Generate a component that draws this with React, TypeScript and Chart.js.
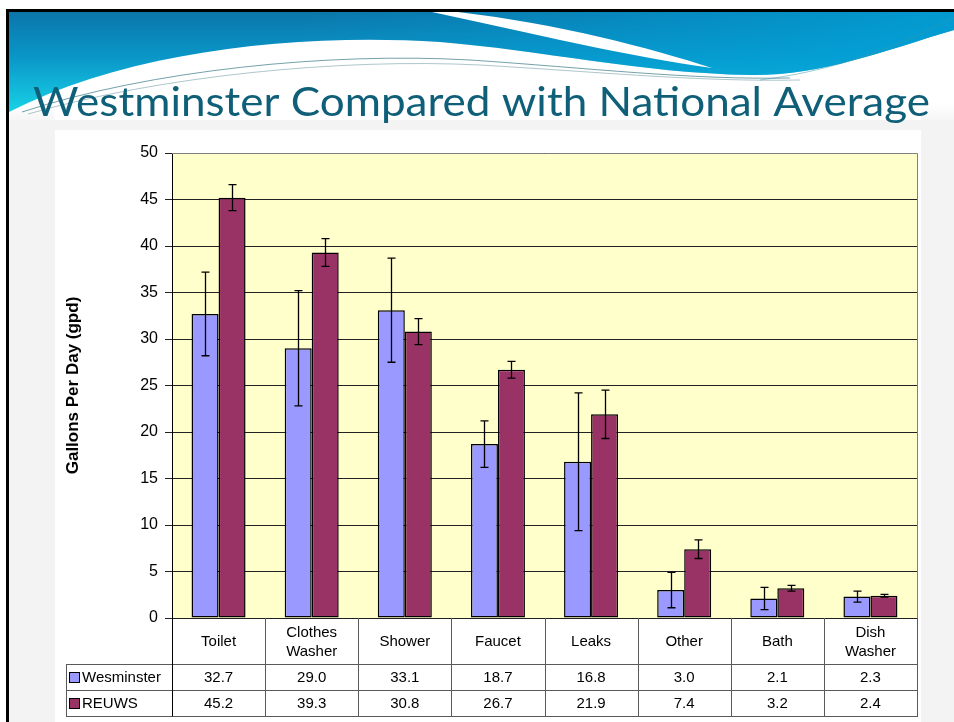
import React, { useEffect, useRef } from 'react';
import { Chart, registerables } from 'chart.js';

Chart.register(...registerables);

// ---- data ----
const categories: string[][] = [
  ['Toilet'],
  ['Clothes', 'Washer'],
  ['Shower'],
  ['Faucet'],
  ['Leaks'],
  ['Other'],
  ['Bath'],
  ['Dish', 'Washer'],
];
const seriesNames = ['Wesminster', 'REUWS'];
const westminster = [32.7, 29.0, 33.1, 18.7, 16.8, 3.0, 2.1, 2.3];
const reuws = [45.2, 39.3, 30.8, 26.7, 21.9, 7.4, 3.2, 2.4];
const westminsterErr = [4.5, 6.2, 5.6, 2.5, 7.4, 1.9, 1.2, 0.6];
const reuwsErr = [1.4, 1.5, 1.4, 0.9, 2.6, 1.0, 0.3, 0.15];
const yMin = 0;
const yMax = 50;
const yStep = 5;
const titleText = 'Westminster Compared with National Average';
const yTitle = 'Gallons Per Day (gpd)';

const seriesColors = ['#9999FF', '#993366'];
const FONT = '"Liberation Sans", Arial, sans-serif';

const slidePlugin = {
  id: 'slide',
  beforeDraw(chart: any) {
    const { ctx, chartArea } = chart;
    const W = chart.width;
    const H = chart.height;
    ctx.save();
    // page
    ctx.fillStyle = '#ffffff';
    ctx.fillRect(0, 0, W, H);
    // slide textured background
    ctx.fillStyle = '#f3f3f3';
    ctx.fillRect(9, 120, W - 9, H - 120);
    // chart object area
    ctx.fillStyle = '#ffffff';
    ctx.fillRect(55, 130, 866, H - 130);
    // header white zone
    ctx.fillStyle = '#ffffff';
    ctx.fillRect(9, 12, W - 9, 108);
    const fade = ctx.createLinearGradient(0, 104, 0, 124);
    fade.addColorStop(0, 'rgba(243,243,243,0)');
    fade.addColorStop(1, 'rgba(243,243,243,1)');
    ctx.fillStyle = fade;
    ctx.fillRect(9, 104, 46, 16);
    ctx.fillRect(921, 104, W - 921, 16);

    // main blue swoosh
    ctx.beginPath();
    ctx.moveTo(9, 12);
    ctx.lineTo(W, 12);
    ctx.lineTo(W, 30);
    ctx.bezierCurveTo(880, 52, 820, 76, 750, 75);
    ctx.bezierCurveTo(640, 73, 540, 50, 440, 42);
    ctx.bezierCurveTo(300, 33, 130, 50, 9, 112);
    ctx.closePath();
    const g = ctx.createLinearGradient(0, 12, 0, 112);
    g.addColorStop(0, '#0b76aa');
    g.addColorStop(0.45, '#0a96c8');
    g.addColorStop(1, '#18d2e6');
    ctx.fillStyle = g;
    ctx.fill();
    const g2 = ctx.createLinearGradient(300, 0, W, 0);
    g2.addColorStop(0, 'rgba(0,160,215,0)');
    g2.addColorStop(1, 'rgba(0,165,220,0.75)');
    ctx.fillStyle = g2;
    ctx.fill();

    // white streak
    ctx.beginPath();
    ctx.moveTo(432, 12);
    ctx.lineTo(458, 12);
    ctx.bezierCurveTo(560, 24, 650, 48, 712, 68);
    ctx.bezierCurveTo(630, 57, 530, 33, 432, 12);
    ctx.closePath();
    ctx.fillStyle = '#ffffff';
    ctx.fill();

    // thin decorative lines
    ctx.lineWidth = 1;
    ctx.strokeStyle = 'rgba(70,130,140,0.75)';
    ctx.beginPath();
    ctx.moveTo(22, 112);
    ctx.bezierCurveTo(150, 70, 330, 52, 470, 60);
    ctx.bezierCurveTo(590, 68, 690, 80, 790, 78);
    ctx.stroke();
    ctx.strokeStyle = 'rgba(120,160,170,0.6)';
    ctx.beginPath();
    ctx.moveTo(28, 114);
    ctx.bezierCurveTo(160, 76, 340, 58, 480, 65);
    ctx.bezierCurveTo(600, 72, 700, 82, 800, 80);
    ctx.stroke();
    ctx.strokeStyle = 'rgba(60,150,170,0.5)';
    ctx.beginPath();
    ctx.moveTo(760, 80);
    ctx.bezierCurveTo(840, 70, 900, 45, W, 18);
    ctx.stroke();

    // slide border
    ctx.fillStyle = '#000000';
    ctx.fillRect(6, 9, W - 6, 3);
    ctx.fillRect(6, 9, 3, H - 9);

    // title
    ctx.font = '40px Lato, "Open Sans", sans-serif';
    ctx.fillStyle = '#0f5f78';
    ctx.textBaseline = 'alphabetic';
    ctx.textAlign = 'left';
    const tw = ctx.measureText(titleText).width;
    ctx.save();
    ctx.translate(33, 116);
    ctx.scale(897 / tw, 1);
    ctx.fillText(titleText, 0, 0);
    ctx.restore();

    // plot background
    ctx.fillStyle = '#FFFFCC';
    ctx.fillRect(chartArea.left, chartArea.top, chartArea.right - chartArea.left, chartArea.bottom - chartArea.top);
    ctx.restore();
  },
};

const errorBarPlugin = {
  id: 'errorBars',
  afterDatasetsDraw(chart: any) {
    const { ctx } = chart;
    const yScale = chart.scales.y;
    const errs = [westminsterErr, reuwsErr];
    ctx.save();
    ctx.strokeStyle = '#000';
    ctx.lineWidth = 1.3;
    chart.data.datasets.forEach((ds: any, di: number) => {
      const meta = chart.getDatasetMeta(di);
      meta.data.forEach((bar: any, i: number) => {
        const v = ds.data[i];
        const e = errs[di][i];
        const x = Math.round(bar.x) + 0.5;
        const yt = yScale.getPixelForValue(v + e);
        const yb = yScale.getPixelForValue(v - e);
        ctx.beginPath();
        ctx.moveTo(x, yt);
        ctx.lineTo(x, yb);
        ctx.moveTo(x - 4, yt);
        ctx.lineTo(x + 4, yt);
        ctx.moveTo(x - 4, yb);
        ctx.lineTo(x + 4, yb);
        ctx.stroke();
      });
    });
    ctx.restore();
  },
};

const tablePlugin = {
  id: 'dataTable',
  afterDraw(chart: any) {
    const { ctx, chartArea } = chart;
    const xScale = chart.scales.x;
    const n = categories.length;
    const cw = xScale.getPixelForValue(1) - xScale.getPixelForValue(0);
    const left = chartArea.left;
    const right = chartArea.right;
    const top = chartArea.bottom;
    const hdrH = 46;
    const rowH = 26;
    const legendLeft = 66;
    const y1 = top + hdrH;
    const y2 = y1 + rowH;
    const y3 = y2 + rowH;
    const series = [westminster, reuws];
    ctx.save();
    // plot border
    ctx.strokeStyle = '#808080';
    ctx.lineWidth = 1;
    ctx.beginPath();
    ctx.moveTo(left, chartArea.top + 0.5);
    ctx.lineTo(right + 0.5, chartArea.top + 0.5);
    ctx.lineTo(right + 0.5, top);
    ctx.stroke();

    // table lines
    ctx.strokeStyle = '#5a5a5a';
    ctx.beginPath();
    [y1, y2, y3].forEach((yy) => {
      ctx.moveTo(legendLeft, Math.round(yy) + 0.5);
      ctx.lineTo(right + 1, Math.round(yy) + 0.5);
    });
    for (let i = 1; i <= n; i++) {
      const bx = Math.round(xScale.getPixelForValue(i - 1) + cw / 2) + 0.5;
      ctx.moveTo(bx, top);
      ctx.lineTo(bx, y3 + 0.5);
    }
    ctx.moveTo(legendLeft + 0.5, y1);
    ctx.lineTo(legendLeft + 0.5, y3 + 0.5);
    ctx.stroke();
    ctx.strokeStyle = '#000';
    ctx.beginPath();
    ctx.moveTo(Math.round(left) + 0.5, top);
    ctx.lineTo(Math.round(left) + 0.5, y3 + 0.5);
    ctx.stroke();

    // header labels
    ctx.fillStyle = '#000';
    ctx.font = `15px ${FONT}`;
    ctx.textAlign = 'center';
    ctx.textBaseline = 'middle';
    categories.forEach((lines, i) => {
      const cx = xScale.getPixelForValue(i);
      const cy = top + hdrH / 2 + 1;
      const lh = 19;
      lines.forEach((ln, k) => {
        ctx.fillText(ln, cx, cy + (k - (lines.length - 1) / 2) * lh);
      });
    });
    // values
    series.forEach((vals, si) => {
      const cy = y1 + rowH * si + rowH / 2 + 1;
      vals.forEach((v, i) => {
        ctx.fillText(v.toFixed(1), xScale.getPixelForValue(i), cy);
      });
      // legend key
      ctx.fillStyle = seriesColors[si];
      ctx.fillRect(legendLeft + 3, cy - 6, 11, 11);
      ctx.strokeStyle = '#000';
      ctx.strokeRect(legendLeft + 3.5, cy - 5.5, 10, 10);
      ctx.fillStyle = '#000';
      ctx.textAlign = 'left';
      ctx.fillText(seriesNames[si], legendLeft + 16, cy);
      ctx.textAlign = 'center';
    });
    ctx.restore();
  },
};

export default function App() {
  const ref = useRef<HTMLCanvasElement>(null);
  useEffect(() => {
    document.body.style.margin = '0';
    const chart = new Chart(ref.current!, {
      type: 'bar',
      data: {
        labels: categories.map((c) => c.join(' ')),
        datasets: [
          {
            label: seriesNames[0],
            data: westminster,
            backgroundColor: seriesColors[0],
            borderColor: '#000',
            borderWidth: 1.5,
            borderSkipped: false,
            categoryPercentage: 0.58,
            barPercentage: 1.0,
          },
          {
            label: seriesNames[1],
            data: reuws,
            backgroundColor: seriesColors[1],
            borderColor: '#000',
            borderWidth: 1.5,
            borderSkipped: false,
            categoryPercentage: 0.58,
            barPercentage: 1.0,
          },
        ],
      },
      options: {
        responsive: false,
        animation: false,
        devicePixelRatio: 1,
        layout: { padding: { top: 153, right: 37, left: 0, bottom: 0 } },
        plugins: {
          legend: { display: false },
          tooltip: { enabled: false },
        },
        scales: {
          x: {
            ticks: { display: false },
            grid: { display: false },
            border: { display: false },
            afterFit: (s: any) => {
              s.height = 104;
            },
          },
          y: {
            min: yMin,
            max: yMax,
            ticks: {
              stepSize: yStep,
              color: '#000',
              font: { family: FONT, size: 16 },
              padding: 7,
            },
            grid: { color: '#222', lineWidth: 1, tickLength: 7, drawTicks: true },
            border: { display: true, color: '#000', width: 1 },
            title: {
              display: true,
              text: yTitle,
              color: '#000',
              font: { family: FONT, size: 17, weight: 'bold' },
              padding: { top: 63, bottom: 0 },
            },
            afterFit: (s: any) => {
              s.width = 172;
            },
          },
        },
      } as any,
      plugins: [slidePlugin, errorBarPlugin, tablePlugin],
    });
    return () => chart.destroy();
  }, []);
  return (
    <div style={{ position: 'fixed', left: 0, top: 0, width: 954, height: 722 }}>
      <canvas ref={ref} width={954} height={722} style={{ display: 'block', width: 954, height: 722 }} />
    </div>
  );
}
